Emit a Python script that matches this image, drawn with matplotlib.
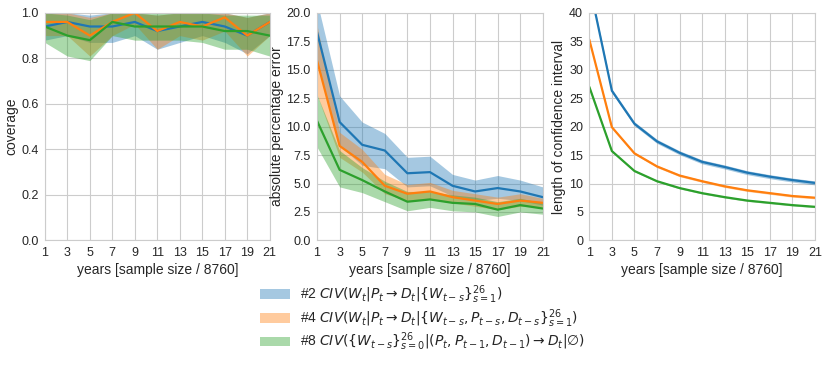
import numpy as np
import matplotlib
matplotlib.use("Agg")
import matplotlib.pyplot as plt
import seaborn as sns

years = [1, 3, 5, 7, 9, 11, 13, 15, 17, 19, 21]

labels = [
    r"#2 $CIV(W_t|P_t \rightarrow D_t|\{W_{t-s}\}_{s=1}^{26})$",
    r"#4 $CIV(W_t|P_t \rightarrow D_t|\{W_{t-s}, P_{t-s}, D_{t-s}\}_{s=1}^{26})$",
    r"#8 $CIV(\{W_{t-s}\}_{s=0}^{26}|(P_t, P_{t-1}, D_{t-1}) \rightarrow D_t|\emptyset)$",
]
colors = ["#1f77b4", "#ff7f0e", "#2ca02c"]

# coverage
cov_mean = [
    [0.94, 0.96, 0.94, 0.94, 0.96, 0.92, 0.94, 0.96, 0.94, 0.90, 0.96],
    [0.96, 0.96, 0.90, 0.96, 1.00, 0.92, 0.96, 0.94, 0.98, 0.90, 0.96],
    [0.94, 0.90, 0.88, 0.96, 0.94, 0.94, 0.94, 0.94, 0.92, 0.92, 0.90],
]
cov_lo = [
    [0.88, 0.90, 0.87, 0.87, 0.90, 0.84, 0.87, 0.90, 0.87, 0.82, 0.90],
    [0.90, 0.90, 0.81, 0.90, 0.95, 0.84, 0.90, 0.88, 0.92, 0.81, 0.90],
    [0.87, 0.81, 0.79, 0.90, 0.88, 0.88, 0.88, 0.87, 0.84, 0.84, 0.81],
]
cov_hi = [
    [1.00, 1.00, 0.99, 1.00, 1.00, 0.99, 1.00, 1.00, 1.00, 0.98, 1.00],
    [1.00, 1.00, 0.98, 1.00, 1.00, 0.99, 1.00, 1.00, 1.00, 0.98, 1.00],
    [1.00, 0.99, 0.97, 1.00, 1.00, 1.00, 1.00, 1.00, 0.99, 0.99, 0.99],
]

# absolute percentage error
ape_mean = [
    [18.3, 10.4, 8.4, 7.9, 5.9, 6.0, 4.8, 4.3, 4.6, 4.3, 3.8],
    [15.8, 8.3, 6.9, 4.8, 4.1, 4.3, 3.8, 3.5, 3.2, 3.5, 3.3],
    [10.5, 6.2, 5.3, 4.3, 3.4, 3.6, 3.3, 3.2, 2.7, 3.1, 2.8],
]
ape_lo = [
    [15.6, 8.3, 6.6, 6.3, 4.7, 4.8, 3.9, 3.5, 3.7, 3.5, 3.1],
    [12.8, 7.3, 6.0, 4.1, 3.5, 3.6, 3.3, 3.0, 2.7, 3.0, 2.9],
    [8.2, 4.7, 4.2, 3.4, 2.6, 2.9, 2.6, 2.5, 2.1, 2.5, 2.3],
]
ape_hi = [
    [21.0, 12.7, 10.4, 9.4, 7.3, 7.4, 5.8, 5.3, 5.7, 5.3, 4.7],
    [18.9, 9.5, 8.0, 5.8, 4.9, 5.1, 4.4, 4.1, 3.8, 4.1, 3.7],
    [12.8, 7.9, 6.4, 5.2, 4.3, 4.3, 4.0, 3.8, 3.4, 3.7, 3.3],
]

# length of confidence interval
len_mean = [
    [45.0, 26.3, 20.5, 17.4, 15.4, 13.8, 12.9, 11.9, 11.2, 10.6, 10.1],
    [35.3, 19.9, 15.3, 13.0, 11.4, 10.4, 9.5, 8.8, 8.3, 7.8, 7.5],
    [27.0, 15.7, 12.2, 10.4, 9.2, 8.3, 7.6, 7.0, 6.6, 6.2, 5.9],
]
len_spread = [0.35, 0.2, 0.15]

sns.set_style("whitegrid")
plt.rcParams["font.family"] = ["Liberation Sans", "DejaVu Sans"]
plt.rcParams["axes.edgecolor"] = "#cccccc"

fig = plt.figure(figsize=(8.3, 3.67), dpi=100)
ax1 = fig.add_axes([0.054, 0.345, 0.271, 0.62])
ax2 = fig.add_axes([0.382, 0.345, 0.272, 0.62])
ax3 = fig.add_axes([0.710, 0.345, 0.272, 0.62])

fills = []
for i in range(3):
    f = ax1.fill_between(years, cov_lo[i], cov_hi[i], color=colors[i], alpha=0.4, lw=0, label=labels[i])
    fills.append(f)
    ax1.plot(years, cov_mean[i], color=colors[i], lw=1.6)

    ax2.fill_between(years, ape_lo[i], ape_hi[i], color=colors[i], alpha=0.4, lw=0)
    ax2.plot(years, ape_mean[i], color=colors[i], lw=1.6)

    m = np.array(len_mean[i])
    ax3.fill_between(years, m - len_spread[i], m + len_spread[i], color=colors[i], alpha=0.4, lw=0)
    ax3.plot(years, m, color=colors[i], lw=1.6)

ax1.set_ylim(0, 1.0)
ax1.set_ylabel("coverage", fontsize=10)
ax2.set_ylim(0, 20)
ax2.set_yticks(np.arange(0, 20.1, 2.5))
ax2.set_ylabel("absolute percentage error", fontsize=10)
ax3.set_ylim(0, 40)
ax3.set_ylabel("length of confidence interval", fontsize=10)

for ax in (ax1, ax2, ax3):
    ax.set_xlim(1, 21)
    ax.set_xticks(years)
    ax.set_xlabel("years [sample size / 8760]", fontsize=10)
    ax.tick_params(labelsize=9, pad=1)
    ax.yaxis.labelpad = 2
    ax.xaxis.labelpad = 3

fig.legend(handles=fills, labels=labels, loc="upper center", bbox_to_anchor=(0.509, 0.262),
           frameon=False, fontsize=10, handlelength=2.2, handleheight=0.7,
           handletextpad=0.7, labelspacing=0.08)

fig.savefig("out.png", dpi=100)
